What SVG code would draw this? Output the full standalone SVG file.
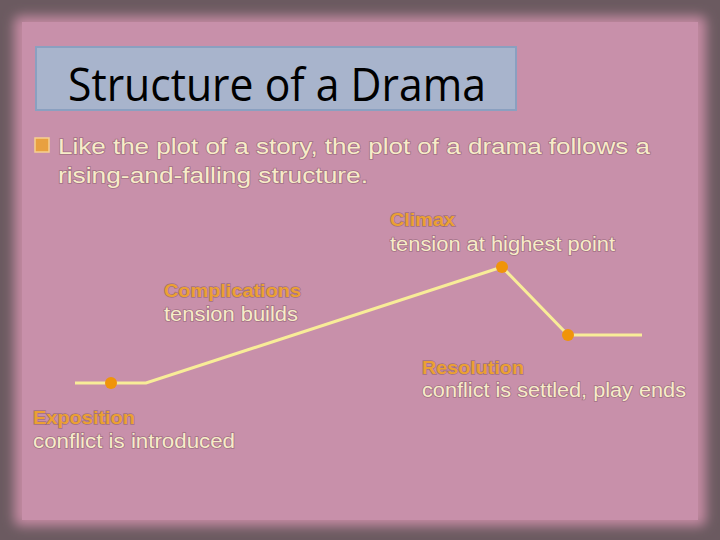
<svg xmlns="http://www.w3.org/2000/svg" width="720" height="540" viewBox="0 0 720 540">
<defs>
<style>
.t{font-family:"Liberation Sans",Arial,sans-serif;font-size:20px;fill:#f7ecc8}
.b{font-size:22px}
.h{font-family:"Liberation Sans",Arial,sans-serif;font-size:19px;font-weight:bold;fill:#eba032}
.sh{paint-order:stroke;stroke:#7a5060;stroke-width:1.5px;stroke-opacity:0.5}
.dot{fill:#f0940a}
</style>
<filter id="blur"><feGaussianBlur stdDeviation="6"/></filter>
</defs>
<rect width="720" height="540" fill="#6b5a60"/>
<rect x="14" y="16" width="692" height="510" rx="6" fill="#c48aa2" filter="url(#blur)"/>
<rect x="22" y="22" width="676" height="498" fill="#c890aa"/>
<g id="title">
<rect x="36" y="47" width="480" height="63" fill="#a8b4cc" stroke="#8aa0c0" stroke-width="2"/>
<text x="68" y="101" font-family="Open Sans,sans-serif" font-size="46" fill="#000" textLength="418" lengthAdjust="spacingAndGlyphs">Structure of a Drama</text>
</g>
<g id="bullet">
<rect x="35" y="138" width="14" height="14" fill="#e8a040" stroke="#f6d090" stroke-width="1.5"/>
<text class="t b sh" x="58" y="154" textLength="592" lengthAdjust="spacingAndGlyphs">Like the plot of a story, the plot of a drama follows a</text>
<text class="t b sh" x="58" y="183" textLength="310" lengthAdjust="spacingAndGlyphs">rising-and-falling structure.</text>
</g>
<g id="connectors">
<polyline points="75,383 146,383 502,267 568,335 642,335" fill="none" stroke="#f8ec98" stroke-width="3"/>
</g>
<g id="exposition">
<circle class="dot" cx="111" cy="383" r="6"/>
<text class="h sh" x="33" y="424" textLength="102" lengthAdjust="spacingAndGlyphs">Exposition</text>
<text class="t sh" x="33" y="448" textLength="202" lengthAdjust="spacingAndGlyphs">conflict is introduced</text>
</g>
<g id="complications">
<text class="h sh" x="164" y="297" textLength="137" lengthAdjust="spacingAndGlyphs">Complications</text>
<text class="t sh" x="164" y="321" textLength="134" lengthAdjust="spacingAndGlyphs">tension builds</text>
</g>
<g id="climax">
<circle class="dot" cx="502" cy="267" r="6"/>
<text class="h sh" x="390" y="226" textLength="65" lengthAdjust="spacingAndGlyphs">Climax</text>
<text class="t sh" x="390" y="251" textLength="225" lengthAdjust="spacingAndGlyphs">tension at highest point</text>
</g>
<g id="resolution">
<circle class="dot" cx="568" cy="335" r="6"/>
<text class="h sh" x="422" y="374" textLength="102" lengthAdjust="spacingAndGlyphs">Resolution</text>
<text class="t sh" x="422" y="397" textLength="264" lengthAdjust="spacingAndGlyphs">conflict is settled, play ends</text>
</g>
</svg>
